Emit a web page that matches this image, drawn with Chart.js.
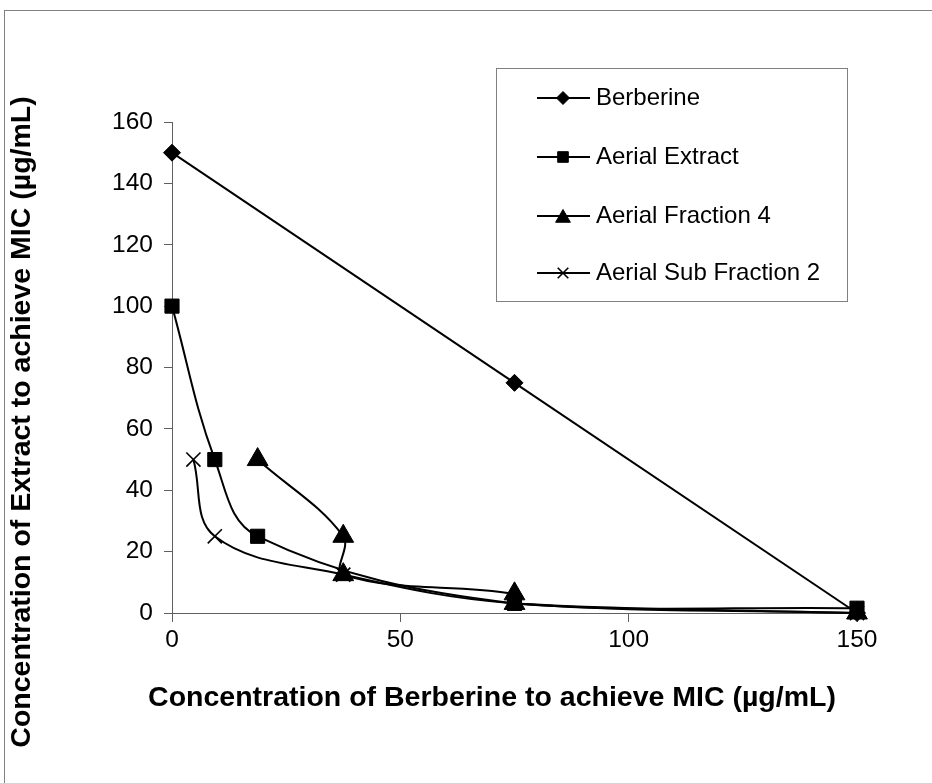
<!DOCTYPE html>
<html>
<head>
<meta charset="utf-8">
<title>Berberine isobologram</title>
<script src="https://cdn.jsdelivr.net/npm/chart.js@4/dist/chart.umd.min.js"></script>
<style>
  html, body { margin: 0; padding: 0; background: #ffffff; }
  #wrap { width: 932px; height: 783px; position: relative; }
</style>
</head>
<body>
<div id="wrap"><canvas id="chart" width="932" height="783"></canvas></div>
<script>
// Series data: concentrations in µg/mL
const seriesNames = ['Berberine', 'Aerial Extract', 'Aerial Fraction 4', 'Aerial Sub Fraction 2'];
const berberineX = [0, 75, 150];
const berberineY = [150, 75, 0];
const extractX = [0, 9.375, 18.75, 75, 150];
const extractY = [100, 50, 25, 3.125, 1.5625];
const fraction4X = [18.75, 37.5, 37.5, 75, 75, 150];
const fraction4Y = [50, 25, 12.5, 6.25, 3.125, 0];
const subFraction2X = [4.6875, 9.375, 37.5, 75, 150];
const subFraction2Y = [50, 25, 12.5, 3.125, 0];

// Axis ticks and titles
const xTicks = [0, 50, 100, 150];
const yTicks = [0, 20, 40, 60, 80, 100, 120, 140, 160];
const xTitle = 'Concentration of Berberine to achieve MIC (µg/mL)';
const yTitle = 'Concentration of Extract to achieve MIC (µg/mL)';

const FONT = "'Liberation Sans', Arial, sans-serif";
const AXIS_GREY = '#606060';

function toPoints(xs, ys) {
  return xs.map((x, i) => ({ x: x, y: ys[i] }));
}

const markerStyles = [
  { pointStyle: 'rectRot', radius: 8.5, legendRadius: 6.5, borderWidth: 1 },
  { pointStyle: 'rect', radius: 10, legendRadius: 7.5, borderWidth: 1 },
  { pointStyle: 'triangle', radius: 12, legendRadius: 8.5, borderWidth: 1 },
  { pointStyle: 'crossRot', radius: 10, legendRadius: 7.5, borderWidth: 1.6 }
];

const seriesData = [
  toPoints(berberineX, berberineY),
  toPoints(extractX, extractY),
  toPoints(fraction4X, fraction4Y),
  toPoints(subFraction2X, subFraction2Y)
];

const datasets = seriesNames.map((name, i) => ({
  label: name,
  data: seriesData[i],
  showLine: true,
  clip: false,
  tension: i === 0 ? 0 : 0.38,
  borderColor: '#000000',
  borderWidth: 2,
  backgroundColor: '#000000',
  pointStyle: markerStyles[i].pointStyle,
  pointRadius: markerStyles[i].radius,
  pointHoverRadius: markerStyles[i].radius,
  pointBackgroundColor: '#000000',
  pointBorderColor: '#000000',
  pointBorderWidth: markerStyles[i].borderWidth
}));

// Outer frame of the chart sheet
const framePlugin = {
  id: 'frame',
  beforeDraw(chart) {
    const ctx = chart.ctx;
    ctx.save();
    ctx.fillStyle = '#ffffff';
    ctx.fillRect(0, 0, chart.width, chart.height);
    ctx.strokeStyle = '#808080';
    ctx.lineWidth = 1;
    ctx.strokeRect(4.5, 10.5, chart.width + 20, chart.height + 20);
    ctx.restore();
  }
};

// Axis titles, placed on the page
const axisTitlePlugin = {
  id: 'axisTitles',
  afterDraw(chart) {
    const ctx = chart.ctx;
    ctx.save();
    ctx.fillStyle = '#000000';
    ctx.font = "bold 28.5px " + FONT;
    ctx.textAlign = 'center';
    ctx.textBaseline = 'middle';
    ctx.fillText(xTitle, 492, 698);
    ctx.translate(22, 422);
    ctx.rotate(-Math.PI / 2);
    ctx.fillText(yTitle, 0, 0);
    ctx.restore();
  }
};

// Boxed legend with line-and-marker samples
const boxLegendPlugin = {
  id: 'boxLegend',
  afterDraw(chart) {
    const ctx = chart.ctx;
    const box = { left: 496.5, top: 68.5, width: 351, height: 233 };
    const rows = [98, 157, 216, 273];
    ctx.save();
    ctx.fillStyle = '#ffffff';
    ctx.fillRect(box.left, box.top, box.width, box.height);
    ctx.strokeStyle = '#808080';
    ctx.lineWidth = 1;
    ctx.strokeRect(box.left, box.top, box.width, box.height);
    chart.data.datasets.forEach((ds, i) => {
      const y = rows[i];
      ctx.strokeStyle = '#000000';
      ctx.lineWidth = 2;
      ctx.beginPath();
      ctx.moveTo(537, y);
      ctx.lineTo(590, y);
      ctx.stroke();
      ctx.fillStyle = '#000000';
      ctx.strokeStyle = '#000000';
      ctx.lineWidth = markerStyles[i].borderWidth;
      Chart.helpers.drawPoint(ctx, {
        pointStyle: markerStyles[i].pointStyle,
        radius: markerStyles[i].legendRadius,
        rotation: 0,
        borderWidth: markerStyles[i].borderWidth
      }, 563, y + (markerStyles[i].pointStyle === 'triangle' ? 2 : 0));
      ctx.fillStyle = '#000000';
      ctx.font = "24px " + FONT;
      ctx.textAlign = 'left';
      ctx.textBaseline = 'middle';
      ctx.fillText(ds.label, 596, y);
    });
    ctx.restore();
  }
};

new Chart(document.getElementById('chart'), {
  type: 'scatter',
  data: { datasets: datasets },
  options: {
    responsive: false,
    animation: false,
    devicePixelRatio: 1,
    layout: { padding: { left: 0, top: 122, right: 75, bottom: 0 } },
    plugins: {
      legend: { display: false },
      tooltip: { enabled: false },
      title: { display: false }
    },
    scales: {
      x: {
        type: 'linear',
        position: 'bottom',
        min: xTicks[0],
        max: xTicks[xTicks.length - 1],
        afterBuildTicks(scale) { scale.ticks = xTicks.map(v => ({ value: v })); },
        afterFit(scale) { scale.height = 170; },
        grid: {
          display: true,
          drawOnChartArea: false,
          drawTicks: true,
          tickLength: 9,
          color: AXIS_GREY,
          tickColor: AXIS_GREY
        },
        border: { display: true, color: AXIS_GREY, width: 1 },
        ticks: {
          color: '#000000',
          padding: 4,
          maxRotation: 0,
          font: { family: FONT, size: 24.5 }
        }
      },
      y: {
        type: 'linear',
        position: 'left',
        min: yTicks[0],
        max: yTicks[yTicks.length - 1],
        afterBuildTicks(scale) { scale.ticks = yTicks.map(v => ({ value: v })); },
        afterFit(scale) { scale.width = 172; },
        grid: {
          display: true,
          drawOnChartArea: false,
          drawTicks: true,
          tickLength: 8,
          color: AXIS_GREY,
          tickColor: AXIS_GREY
        },
        border: { display: true, color: AXIS_GREY, width: 1 },
        ticks: {
          color: '#000000',
          padding: 11,
          font: { family: FONT, size: 24.5 }
        }
      }
    }
  },
  plugins: [framePlugin, axisTitlePlugin, boxLegendPlugin]
});
</script>
</body>
</html>
